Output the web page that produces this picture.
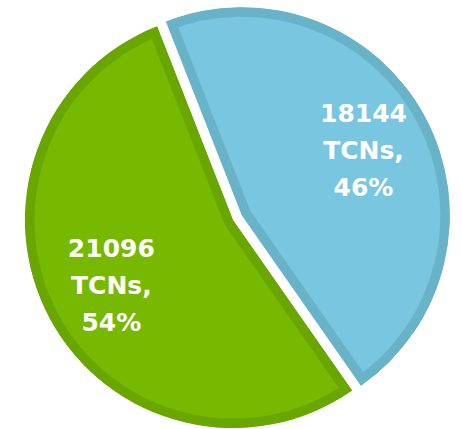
<!DOCTYPE html>
<html>
<head>
<meta charset="utf-8">
<script src="https://cdn.jsdelivr.net/npm/d3@7"></script>
<style>
	body { margin: 0; background: #fff; }
	svg { display: block; }
</style>
</head>
<body>
<div id="chart"></div>
<script>
var categories = ['blue', 'green'];
var counts = [18144, 21096];
var percents = ['46%', '54%'];
var fills = ['#79c6e0', '#76b900'];
var borders = ['#69b3c9', '#6aa600'];
var exploded = [10, 0];

var width = 462;
var height = 429;
var radius = 208;
var cx = 233;
var cy = 220;
var startDeg = -21.4;
var labelRadius = 138;
var lineHeight = 37;

var data = categories.map(function(d, i){
	return { key: d, value: counts[i], pct: percents[i], fill: fills[i], border: borders[i], explode: exploded[i] };
});

var pie = d3
	.pie()
	.sort(null)
	.value(function(d){ return d.value; })
	.startAngle(startDeg * Math.PI / 180)
	.endAngle(startDeg * Math.PI / 180 + 2 * Math.PI);

var arc = d3
	.arc()
	.innerRadius(0)
	.outerRadius(radius);

var labelArc = d3
	.arc()
	.innerRadius(labelRadius)
	.outerRadius(labelRadius);

var svg = d3
	.select('#chart')
	.append('svg')
	.attr('width', width)
	.attr('height', height);

var defs = svg.append('defs');

var arcs = pie(data);

// offset of each slice along its middle angle
function shift(d){
	var mid = (d.startAngle + d.endAngle) / 2;
	return [Math.sin(mid) * d.data.explode, -Math.cos(mid) * d.data.explode];
}

defs
	.selectAll('clipPath')
	.data(arcs)
	.enter()
	.append('clipPath')
	.attr('id', function(d){ return 'clip-' + d.data.key; })
	.append('path')
	.attr('d', arc);

var slices = svg
	.append('g')
	.attr('transform', 'translate(' + cx + ',' + cy + ')')
	.selectAll('.slice')
	.data(arcs)
	.enter()
	.append('g')
	.attr('class', 'slice')
	.attr('transform', function(d){ var s = shift(d); return 'translate(' + s[0] + ',' + s[1] + ')'; });

// fill + inset border (stroke clipped to the slice itself)
slices
	.append('path')
	.attr('d', arc)
	.attr('fill', function(d){ return d.data.fill; })
	.attr('stroke', function(d){ return d.data.border; })
	.attr('stroke-width', 19)
	.attr('stroke-linejoin', 'miter')
	.attr('clip-path', function(d){ return 'url(#clip-' + d.data.key + ')'; });

var labels = slices
	.append('text')
	.attr('transform', function(d){ var c = labelArc.centroid(d); return 'translate(' + c[0] + ',' + c[1] + ')'; })
	.attr('text-anchor', 'middle')
	.attr('fill', '#fff')
	.style('font-family', 'DejaVu Sans, sans-serif')
	.style('font-weight', 'bold')
	.style('font-size', '25px');

labels
	.selectAll('tspan')
	.data(function(d){ return [String(d.data.value), 'TCNs,', d.data.pct]; })
	.enter()
	.append('tspan')
	.attr('x', 0)
	.attr('y', function(d, i){ return (i - 1) * lineHeight + 9; })
	.text(function(d){ return d; });
</script>
</body>
</html>
